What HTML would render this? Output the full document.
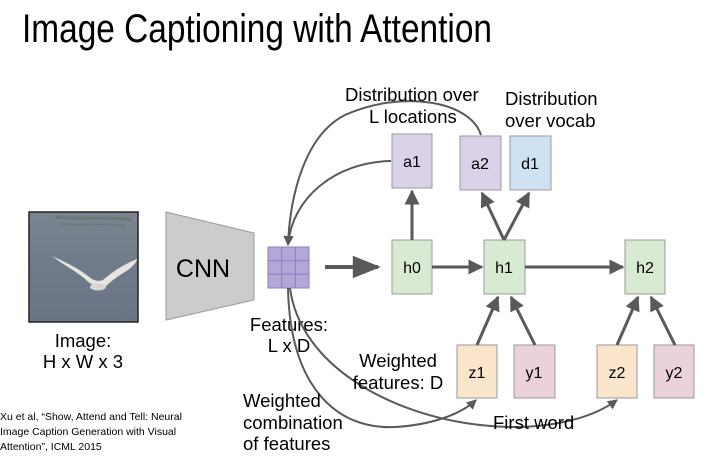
<!DOCTYPE html>
<html><head><meta charset="utf-8"><style>
html,body{margin:0;padding:0;background:#fff;}
svg{display:block;font-family:"Liberation Sans",Arial,sans-serif;}
</style></head><body>
<svg width="722" height="458" viewBox="0 0 722 458" xmlns="http://www.w3.org/2000/svg">
<defs>
<marker id="ah" viewBox="0 0 10 10" refX="9" refY="5" markerWidth="5" markerHeight="5" orient="auto" markerUnits="strokeWidth"><path d="M0,0 L10,5 L0,10 z" fill="#595959"/></marker>
<marker id="ah3" viewBox="0 0 10 10" refX="9" refY="5" markerWidth="5.5" markerHeight="5" orient="auto" markerUnits="strokeWidth"><path d="M0,0 L10,5 L0,10 z" fill="#595959"/></marker>
<marker id="as" viewBox="0 0 10 10" refX="9" refY="5" markerWidth="8" markerHeight="7" orient="auto" markerUnits="strokeWidth"><path d="M0,1 L10,5 L0,9 z" fill="#595959"/></marker>
<linearGradient id="wat" x1="0" y1="0" x2="0" y2="1"><stop offset="0" stop-color="#7a8590"/><stop offset="0.5" stop-color="#6f7b8a"/><stop offset="1" stop-color="#6a7586"/></linearGradient>
</defs>
<text x="22" y="42" font-size="40" textLength="470" lengthAdjust="spacingAndGlyphs" fill="#000">Image Captioning with Attention</text>

<!-- image -->
<rect x="29" y="212" width="109" height="110" fill="url(#wat)" stroke="#222" stroke-width="1.5"/>
<path d="M55,217 C80,220 110,216 132,220" stroke="#5d6a60" stroke-width="3" fill="none" opacity="0.5"/>
<path d="M60,224 C85,226 100,222 125,226" stroke="#5d6a60" stroke-width="2" fill="none" opacity="0.4"/>
<path d="M52,256 C62,264 74,270 84,278 C90,284 96,288 104,288 C109,283 116,277 128,270 C133,266 137,262 137,259 C127,263 114,270 103,280 C98,282 92,280 88,276 C78,268 65,262 52,256 z" fill="#e8e4de"/>
<ellipse cx="98" cy="287" rx="8" ry="3.5" fill="#d8d6d2"/>

<text x="83" y="347" font-size="18.5" text-anchor="middle">Image:</text>
<text x="83" y="368" font-size="18.5" text-anchor="middle">H x W x 3</text>

<!-- CNN -->
<polygon points="166,212 254,233 254,300 166,320" fill="#cccccc" stroke="#999" stroke-width="1"/>
<text x="203" y="277" font-size="25" text-anchor="middle">CNN</text>

<!-- grid -->
<rect x="268" y="247" width="41" height="41" fill="#b4a7d6" stroke="#8e7cc3" stroke-width="1"/>
<path d="M281.7,247 V288 M295.3,247 V288 M268,260.7 H309 M268,274.3 H309" stroke="#8e7cc3" stroke-width="1"/>
<text x="289" y="331" font-size="18.5" text-anchor="middle">Features:</text>
<text x="289" y="352" font-size="18.5" text-anchor="middle">L x D</text>

<!-- big arrow -->
<line x1="325" y1="267" x2="378" y2="267" stroke="#595959" stroke-width="4" marker-end="url(#as)"/>

<!-- boxes -->
<g stroke="#999" stroke-width="1">
<rect x="392" y="134" width="40" height="54" fill="#d9d2e9"/>
<rect x="460" y="136" width="41" height="54" fill="#d9d2e9"/>
<rect x="510" y="136" width="41" height="54" fill="#cfe2f3"/>
<rect x="392" y="240" width="40" height="54" fill="#d9ead3"/>
<rect x="484" y="240" width="41" height="54" fill="#d9ead3"/>
<rect x="625" y="240" width="40" height="54" fill="#d9ead3"/>
<rect x="457" y="345" width="40" height="53" fill="#fce5cd"/>
<rect x="514" y="345" width="41" height="53" fill="#ead1dc"/>
<rect x="597" y="345" width="40" height="53" fill="#fce5cd"/>
<rect x="654" y="345" width="40" height="53" fill="#ead1dc"/>
</g>
<g font-size="16" text-anchor="middle" fill="#000">
<text x="412" y="167">a1</text>
<text x="480" y="169">a2</text>
<text x="530" y="169">d1</text>
<text x="412" y="273">h0</text>
<text x="504" y="273">h1</text>
<text x="645" y="273">h2</text>
<text x="477" y="378">z1</text>
<text x="534" y="378">y1</text>
<text x="617" y="378">z2</text>
<text x="674" y="378">y2</text>
</g>

<!-- arrows -->
<g stroke="#595959" stroke-width="3" fill="none" marker-end="url(#ah3)">
<line x1="432" y1="267" x2="482" y2="267"/>
<line x1="525" y1="267" x2="623" y2="267"/>
<line x1="412" y1="240" x2="412" y2="191"/>
<line x1="504" y1="240" x2="482" y2="193"/>
<line x1="504" y1="240" x2="529" y2="193"/>
<line x1="477" y1="345" x2="498" y2="297"/>
<line x1="535" y1="345" x2="511" y2="297"/>
<line x1="617" y1="345" x2="638" y2="297"/>
<line x1="675" y1="345" x2="651" y2="297"/>
</g>
<g stroke="#595959" stroke-width="2" fill="none" marker-end="url(#ah)">
<path d="M391,161 C335,162 292,198 288,245"/>
<path d="M481,135 C470,100 400,90 345,115 C305,135 290,195 288,245"/>
<path d="M288,288 C290,385 335,430 395,427 C430,425 460,415 476,400"/>
<path d="M290,288 C300,365 390,415 480,425 C540,432 590,420 617,400"/>
</g>

<!-- labels -->
<g font-size="18.5" fill="#000">
<text x="345" y="101">Distribution over</text>
<text x="369" y="123">L locations</text>
<text x="505" y="105">Distribution</text>
<text x="505" y="127">over vocab</text>
<text x="398" y="367" text-anchor="middle">Weighted</text>
<text x="398" y="389" text-anchor="middle">features: D</text>
<text x="243" y="407">Weighted</text>
<text x="243" y="429">combination</text>
<text x="243" y="450">of features</text>
<text x="493" y="429">First word</text>
</g>
<g font-size="10.5" fill="#000">
<text x="0" y="420">Xu et al, “Show, Attend and Tell: Neural</text>
<text x="0" y="435">Image Caption Generation with Visual</text>
<text x="0" y="450">Attention”, ICML 2015</text>
</g>
</svg>
</body></html>
